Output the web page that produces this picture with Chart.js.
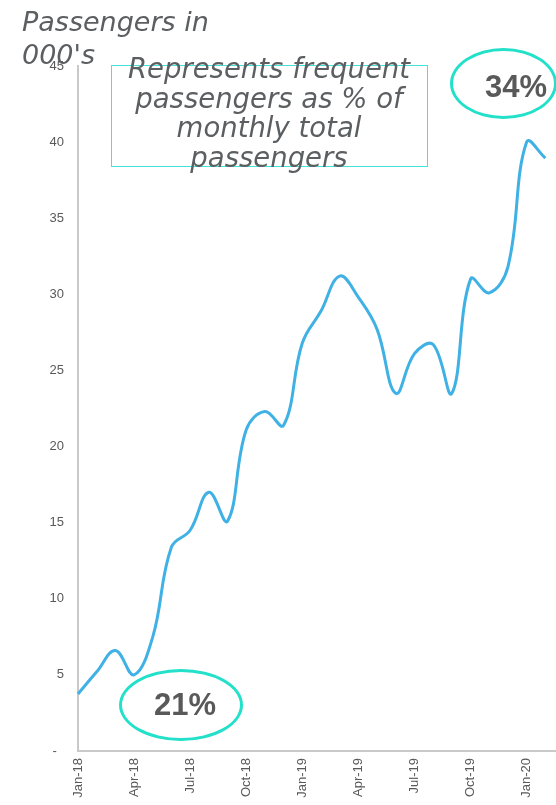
<!DOCTYPE html>
<html>
<head>
<meta charset="utf-8">
<script src="https://cdn.jsdelivr.net/npm/chart.js@4/dist/chart.umd.min.js"></script>
<style>
    html, body { margin: 0; padding: 0; background: #fff; overflow: hidden; }
    #wrap { position: relative; width: 556px; height: 805px; overflow: hidden; }
    #grafico { position: absolute; left: 0; top: 0; }
    .titulo {
        position: absolute; left: 22px; top: 6px;
        font: oblique 27px/32.5px "DejaVu Sans", sans-serif; color: #5b5f61;
    }
    .caixa {
        position: absolute; left: 111px; top: 65px; width: 315px; height: 100px;
        border: 1px solid #45e3d6;
    }
    .nota {
        position: absolute; left: 110px; top: 54px; width: 318px; text-align: center;
        font: oblique 27.5px/29.5px "DejaVu Sans", sans-serif; color: #5b5f61;
    }
    .elipse {
        position: absolute; border: 3px solid #22e0c9; border-radius: 50%; box-sizing: border-box;
    }
    .pct {
        position: absolute; width: 120px; text-align: center;
        font: bold 31px/31px "Liberation Sans", Arial, sans-serif; color: #595959;
    }
</style>
</head>
<body>
<div id="wrap">
    <canvas id="grafico" width="566" height="805"></canvas>
    <div class="titulo">Passengers in<br>000's</div>
    <div class="caixa"></div>
    <div class="nota">Represents frequent<br>passengers as % of<br>monthly total<br>passengers</div>
    <div class="elipse" style="left:450px; top:48px; width:107px; height:71px;"></div>
    <div class="pct" style="left:456px; top:71px;">34%</div>
    <div class="elipse" style="left:119px; top:669px; width:124px; height:72px;"></div>
    <div class="pct" style="left:125px; top:689px;">21%</div>
</div>
<script>
// Meses (o último fica vazio, só para estender o eixo)
const meses = [
    'Jan-18', 'Feb-18', 'Mar-18', 'Apr-18', 'May-18', 'Jun-18', 'Jul-18', 'Aug-18', 'Sep-18',
    'Oct-18', 'Nov-18', 'Dec-18', 'Jan-19', 'Feb-19', 'Mar-19', 'Apr-19', 'May-19', 'Jun-19',
    'Jul-19', 'Aug-19', 'Sep-19', 'Oct-19', 'Nov-19', 'Dec-19', 'Jan-20', 'Feb-20', 'Mar-20'
];

// Passageiros frequentes (milhares)
const passageiros = [
    3.75, 5.2, 6.6, 5.0, 7.5, 13.4, 14.5, 17.0, 15.1,
    21.1, 22.3, 21.4, 26.8, 28.9, 31.2, 29.8, 27.7, 23.5,
    26.1, 26.7, 23.5, 31.0, 30.1, 31.8, 40.0, 38.95, null
];

const ticksY = [0, 5, 10, 15, 20, 25, 30, 35, 40, 45];

const COR_LINHA = '#3fb1e5';
const COR_TEXTO = '#595959';
const COR_EIXO  = '#c9c9c9';

function renderizarGrafico() {
    const canvas = document.getElementById('grafico');

    new Chart(canvas, {
        type: 'line',
        data: {
            labels: meses,
            datasets: [{
                data: passageiros,
                borderColor: COR_LINHA,
                borderWidth: 3,
                pointRadius: 0,
                tension: 0.4,
                fill: false,
                spanGaps: false
            }]
        },
        options: {
            responsive: false,
            devicePixelRatio: 1,
            animation: false,
            layout: { padding: { top: 66, right: 2, left: 0, bottom: 0 } },
            plugins: { legend: { display: false }, tooltip: { enabled: false } },
            scales: {
                x: {
                    type: 'category',
                    offset: false,
                    grid: { display: false, drawTicks: false },
                    border: { display: true, color: COR_EIXO, width: 2 },
                    ticks: {
                        autoSkip: false,
                        minRotation: 90,
                        maxRotation: 90,
                        padding: 7,
                        color: COR_TEXTO,
                        font: { family: '"Liberation Sans", Arial, sans-serif', size: 13 },
                        callback: (v, i) => (i % 3 === 0 ? meses[i] : '')
                    },
                    // altura fixa e sem folga lateral para os rótulos girados
                    afterFit: s => { s.height = 54; s.paddingLeft = 0; s.paddingRight = 0; }
                },
                y: {
                    min: 0,
                    max: 45,
                    afterBuildTicks: s => { s.ticks = ticksY.map(v => ({ value: v })); },
                    grid: { display: false, drawTicks: false },
                    border: { display: true, color: COR_EIXO, width: 2 },
                    ticks: {
                        padding: 14,
                        color: COR_TEXTO,
                        font: { family: '"Liberation Sans", Arial, sans-serif', size: 13 },
                        callback: v => (v === 0 ? '-  ' : String(v))
                    },
                    afterFit: s => { s.width = 78; s.paddingTop = 0; s.paddingBottom = 0; }
                }
            }
        }
    });
}

renderizarGrafico();
</script>
</body>
</html>
